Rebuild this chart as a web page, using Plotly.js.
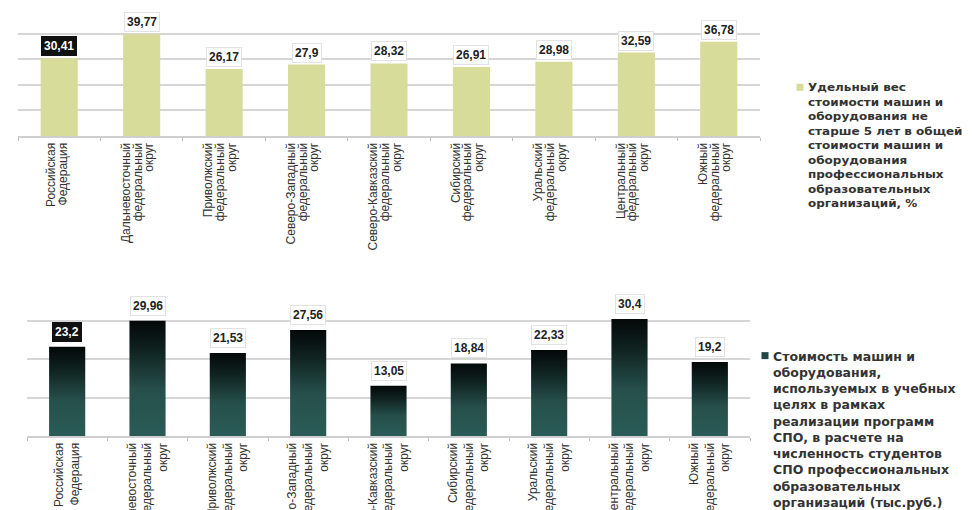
<!DOCTYPE html>
<html>
<head>
<meta charset="utf-8">
<script src="https://cdn.plot.ly/plotly-3.0.1.min.js"></script>
<style>
  html, body { margin: 0; padding: 0; background: #fff; }
  #chart { width: 972px; height: 510px; }
  /* tighter line spacing for the legend texts */
  #chart text.legendtext {
    transform-box: fill-box;
    transform-origin: 0 0;
    transform: scaleY(0.93);
  }
  #chart text.legendtext[style*="12.5px"] {
    transform: scaleY(0.9);
  }
</style>
</head>
<body>
<div id="chart"></div>
<script>
// ---- data ----
const categories = [
  "Российская<br>Федерация",
  "Дальневосточный<br>федеральный<br>округ",
  "Приволжский<br>федеральный<br>округ",
  "Северо-Западный<br>федеральный<br>округ",
  "Северо-Кавказский<br>федеральный<br>округ",
  "Сибирский<br>федеральный<br>округ",
  "Уральский<br>федеральный<br>округ",
  "Центральный<br>федеральный<br>округ",
  "Южный<br>федеральный<br>округ"
];
const shareNew = [30.41, 39.77, 26.17, 27.9, 28.32, 26.91, 28.98, 32.59, 36.78];
const costPerStudent = [23.2, 29.96, 21.53, 27.56, 13.05, 18.84, 22.33, 30.4, 19.2];

const nameTop = "Удельный вес<br>стоимости машин и<br>оборудования не<br>старше 5 лет в общей<br>стоимости машин и<br>оборудования<br>профессиональных<br>образовательных<br>организаций, %";
const nameBottom = "Стоимость машин и<br>оборудования,<br>используемых в учебных<br>целях в рамках<br>реализации программ<br>СПО, в расчете на<br>численность студентов<br>СПО профессиональных<br>образовательных<br>организаций (тыс.руб.)";

const fmt = v => String(v).replace('.', ',');

const traces = [
  {
    type: 'bar', x: categories, y: shareNew, xaxis: 'x', yaxis: 'y',
    name: nameTop, legend: 'legend',
    marker: { color: '#d8dc9b' }, hoverinfo: 'none'
  },
  {
    type: 'bar', x: categories, y: costPerStudent, xaxis: 'x2', yaxis: 'y2',
    name: nameBottom, legend: 'legend2',
    marker: { color: '#1f4743' }, hoverinfo: 'none'
  }
];

function labels(vals, xref, yref, shift) {
  return vals.map((v, i) => ({
    x: categories[i], y: v, xref: xref, yref: yref,
    text: '<b>' + fmt(v) + '</b>',
    showarrow: false, yanchor: 'bottom', yshift: shift,
    font: { family: 'Arial, Liberation Sans, sans-serif', size: 12, color: i === 0 ? '#ffffff' : '#222222' },
    bgcolor: i === 0 ? '#111111' : '#ffffff',
    bordercolor: i === 0 ? '#111111' : '#e2e2e2',
    borderwidth: 1, borderpad: 2
  }));
}

const xCommon = {
  type: 'category', tickangle: -90,
  tickfont: { family: 'Arial, Liberation Sans, sans-serif', size: 12, color: '#333' },
  showline: true, linecolor: '#cfcfcf', linewidth: 2,
  ticks: 'outside', tickson: 'boundaries', ticklen: 3, tickcolor: '#bbb',
  showgrid: false, automargin: false
};
const yCommon = {
  showticklabels: false, showline: false, zeroline: false,
  gridcolor: '#d6d6d6', gridwidth: 2, ticks: ''
};

const layout = {
  width: 972, height: 510,
  margin: { l: 0, r: 0, t: 0, b: 0, autoexpand: false },
  paper_bgcolor: '#ffffff', plot_bgcolor: '#ffffff',
  bargap: 0.55,
  showlegend: true,
  xaxis: Object.assign({}, xCommon, { domain: [18/972, 760/972], anchor: 'y' }),
  yaxis: Object.assign({}, yCommon, { domain: [1 - 136/510, 1 - 8/510], range: [0, 50], dtick: 10, anchor: 'x' }),
  xaxis2: Object.assign({}, xCommon, { domain: [27/972, 750/972], anchor: 'y2' }),
  yaxis2: Object.assign({}, yCommon, { domain: [1 - 436/510, 1 - 282/510], range: [0, 40], dtick: 10, anchor: 'x2' }),
  legend: { x: 768/972, y: 1 - 73/510, xanchor: 'left', yanchor: 'top', valign: 'top',
            font: { family: 'DejaVu Sans, Arial, sans-serif', size: 12, color: '#333', weight: 'bold' },
            bgcolor: 'rgba(0,0,0,0)', itemwidth: 30 },
  legend2: { x: 733/972, y: 1 - 341/510, xanchor: 'left', yanchor: 'top', valign: 'top',
            font: { family: 'DejaVu Sans, Arial, sans-serif', size: 12.5, color: '#333', weight: 'bold' },
            bgcolor: 'rgba(0,0,0,0)', itemwidth: 30 },
  annotations: labels(shareNew, 'x', 'y', 2).concat(labels(costPerStudent, 'x2', 'y2', 5))
};

function scaleTextLines(t, factor) {
  t.querySelectorAll('tspan.line').forEach(ts => {
    if (ts.dataset.origDy === undefined) ts.dataset.origDy = ts.getAttribute('dy') || '0';
    const dy = parseFloat(ts.dataset.origDy);
    if (!isNaN(dy) && dy !== 0) {
      const nv = (dy * factor) + 'em';
      if (ts.getAttribute('dy') !== nv) ts.setAttribute('dy', nv);
    }
  });
}

function polish(gd) {
  const ns = 'http://www.w3.org/2000/svg';
  const svg = gd.querySelector('svg.main-svg');
  if (!svg) return;
  let defs = svg.querySelector('defs');
  if (!defs) { defs = document.createElementNS(ns, 'defs'); svg.insertBefore(defs, svg.firstChild); }
  if (!svg.querySelector('#tealGrad')) {
    const lg = document.createElementNS(ns, 'linearGradient');
    lg.setAttribute('id', 'tealGrad');
    lg.setAttribute('x1', '0'); lg.setAttribute('y1', '0');
    lg.setAttribute('x2', '0'); lg.setAttribute('y2', '1');
    [['0%', '#030808'], ['25%', '#0f2220'], ['60%', '#264f4b'], ['100%', '#2a5c57']].forEach(([o, c]) => {
      const s = document.createElementNS(ns, 'stop');
      s.setAttribute('offset', o); s.setAttribute('stop-color', c);
      lg.appendChild(s);
    });
    defs.appendChild(lg);
  }
  gd.querySelectorAll('.subplot.x2y2 .trace.bars path').forEach(p => {
    if (p.style.fill !== 'url("#tealGrad")') p.style.fill = 'url(#tealGrad)';
  });
  // tighter line spacing for category labels
  gd.querySelectorAll('.xtick text').forEach(t => scaleTextLines(t, 0.75));
  // small legend swatches close to the text
  gd.querySelectorAll('.legendpoints path').forEach(p => {
    if (p.getAttribute('d') !== 'M3.5,3.5H-3.5V-3.5H3.5Z') p.setAttribute('d', 'M3.5,3.5H-3.5V-3.5H3.5Z');
    if (p.getAttribute('transform') !== 'translate(32,0)') p.setAttribute('transform', 'translate(32,0)');
  });
}

const gdEl = document.getElementById('chart');
const observer = new MutationObserver(() => polish(gdEl));
observer.observe(gdEl, { childList: true, subtree: true });

Plotly.newPlot(gdEl, traces, layout, { staticPlot: true, displayModeBar: false }).then(gd => {
  polish(gd);
  [0, 20, 60, 120, 250, 500].forEach(ms => setTimeout(() => polish(gd), ms));
});
</script>
</body>
</html>
